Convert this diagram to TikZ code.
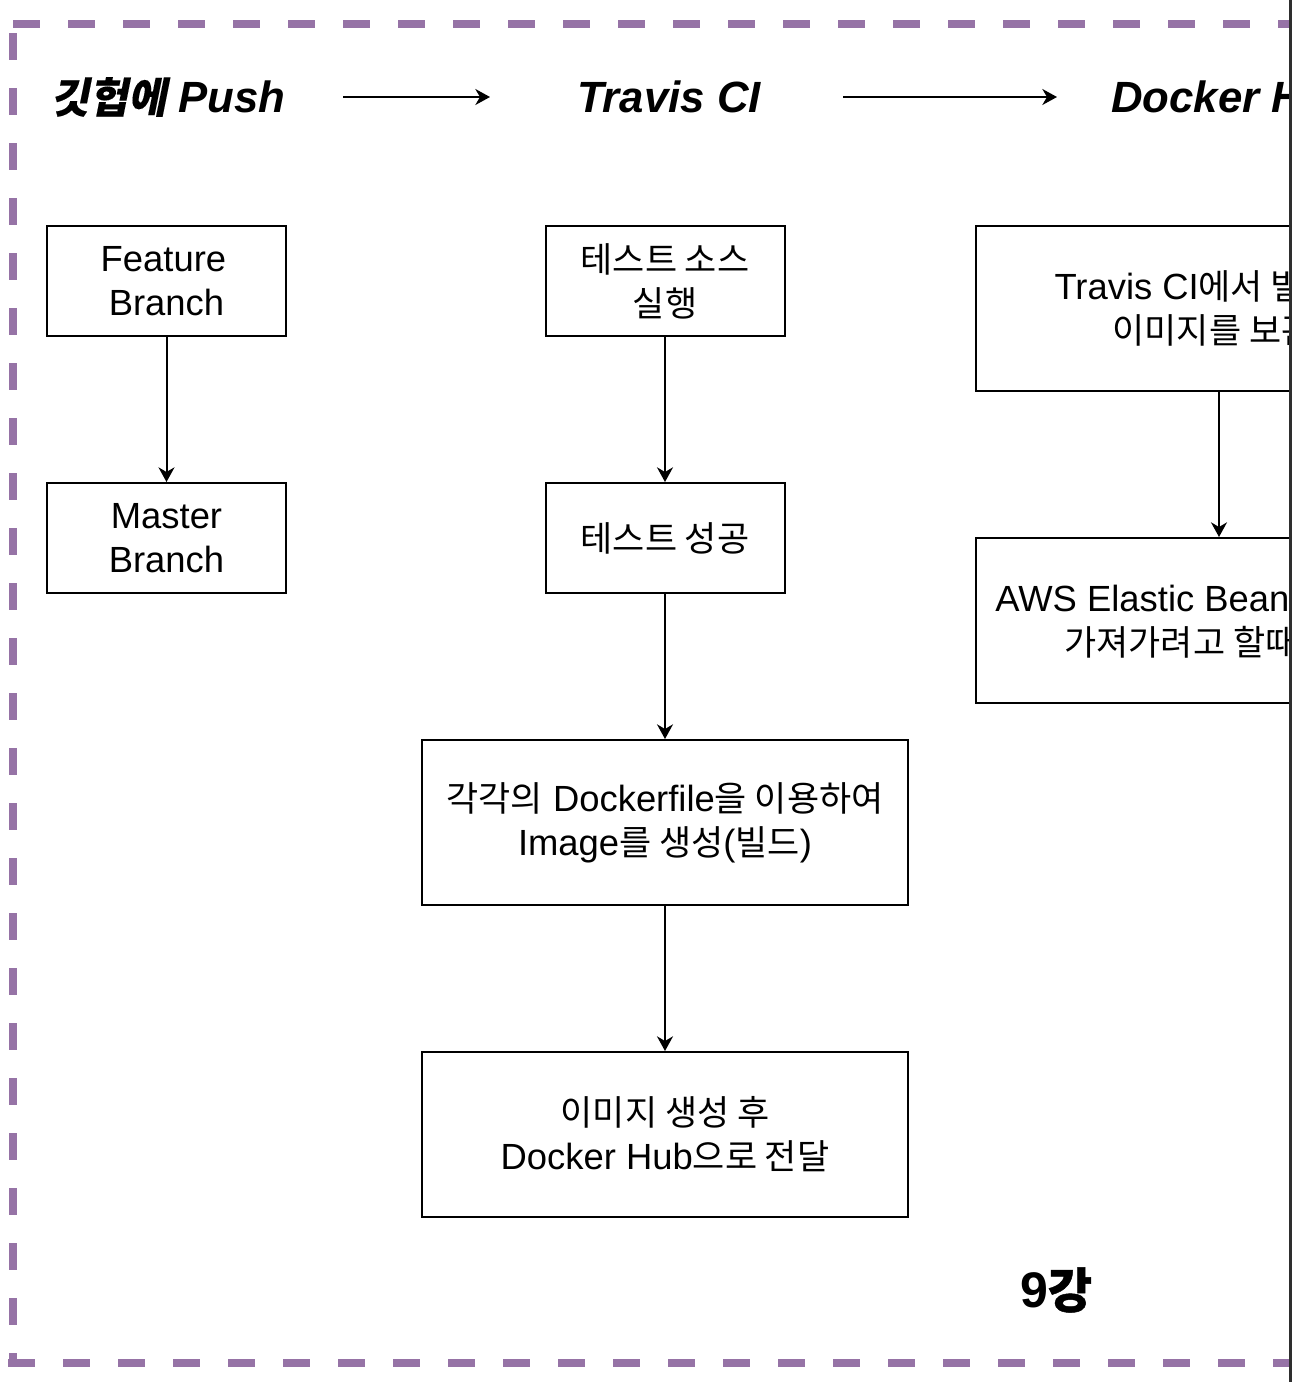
\documentclass[tikz,border=0pt]{standalone}
\usepackage{fontspec}
\setmainfont{Liberation Sans}
\newfontfamily\kr{Noto Sans CJK KR}[Scale=0.96]
\newfontfamily\krbi{Noto Sans CJK KR}[Scale=0.96,FakeSlant=0.2,FakeBold=0.2]
\newfontfamily\krb{Noto Sans CJK KR}[Scale=0.96,FakeBold=1.0]
\usetikzlibrary{arrows.meta}
\definecolor{purp}{HTML}{9673A6}
\definecolor{edgegray}{HTML}{2E2E2E}
\begin{document}
\begin{tikzpicture}[x=0.75pt,y=-0.75pt,
  box/.style={draw=black,line width=1.5pt,fill=white,align=center,inner sep=0pt,font=\fontsize{27.3}{33}\selectfont},
  smallbox/.style={box,minimum width=179.25pt,minimum height=82.5pt},
  bigbox/.style={box,minimum width=364.5pt,minimum height=123.75pt},
  conn/.style={line width=1.5pt,-{Stealth[length=11pt,width=12pt,inset=3.5pt]}},
  title/.style={inner sep=0pt,font=\fontsize{32.8}{38}\selectfont\bfseries\itshape},
  border/.style={draw=purp,line width=6pt,dash pattern=on 20.25pt off 21pt}]
\useasboundingbox (0,0) rectangle (1292,1382);
\begin{scope}
\clip (0,0) rectangle (1289,1382);
% dashed frame
\draw[border] (13,23.5) -- (1700,23.5);
\draw[border] (12.5,33) -- (12.5,1367);
\draw[border] (8,1363) -- (1700,1363);
% titles
\node[title] (h1) at (168,97) {{\krbi 깃헙에} Push};
\node[title] (h2) at (669,97) {Travis CI};
\node[title,anchor=west] (h3) at (1111,97) {Docker Hub};
\coordinate (a1s) at (343,97);
\coordinate (a1e) at (490,97);
\coordinate (a2s) at (843,97);
\coordinate (a2e) at (1057,97);
\draw[conn] (a1s) -- (a1e);
\draw[conn] (a2s) -- (a2e);
% column 1
\node[smallbox] (fb) at (166.5,281) {Feature\,\\Branch};
\node[smallbox] (mb) at (166.5,538) {Master\\Branch};
% column 2
\node[smallbox] (t1) at (665,281) {{\kr 테스트 소스}\\{\kr 실행}};
\node[smallbox] (t2) at (665,538) {{\kr 테스트 성공}};
\node[bigbox] (t3) at (665,822.5) {{\kr 각각의} Dockerfile{\kr 을 이용하여}\\Image{\kr 를 생성}({\kr 빌드})};
\node[bigbox] (t4) at (665,1134.5) {{\kr 이미지 생성 후}\\Docker Hub{\kr 으로 전달}};
% column 3
\node[bigbox] (d1) at (1219,308.5) {Travis CI{\kr 에서 빌드된}\hspace*{12pt}\\{\kr 이미지를 보관}\hspace*{9pt}};
\node[bigbox] (d2) at (1219,620.5) {AWS Elastic Beanstalk{\kr 에서}\hspace*{10.5pt}\\{\kr 가져가려고 할때 사용}\hspace*{3pt}};
% connectors
\draw[conn] (fb) -- (mb);
\draw[conn] (t1) -- (t2);
\draw[conn] (t2) -- (t3);
\draw[conn] (t3) -- (t4);
\draw[conn] (d1) -- (d2);
% lecture label
\node[inner sep=0pt,font=\fontsize{37.5}{45}\selectfont\bfseries] (lec) at (1056,1290) {9{\krb 강}};
\end{scope}
\fill[edgegray] (1289,0) rectangle (1292,1382);
\end{tikzpicture}
\end{document}
